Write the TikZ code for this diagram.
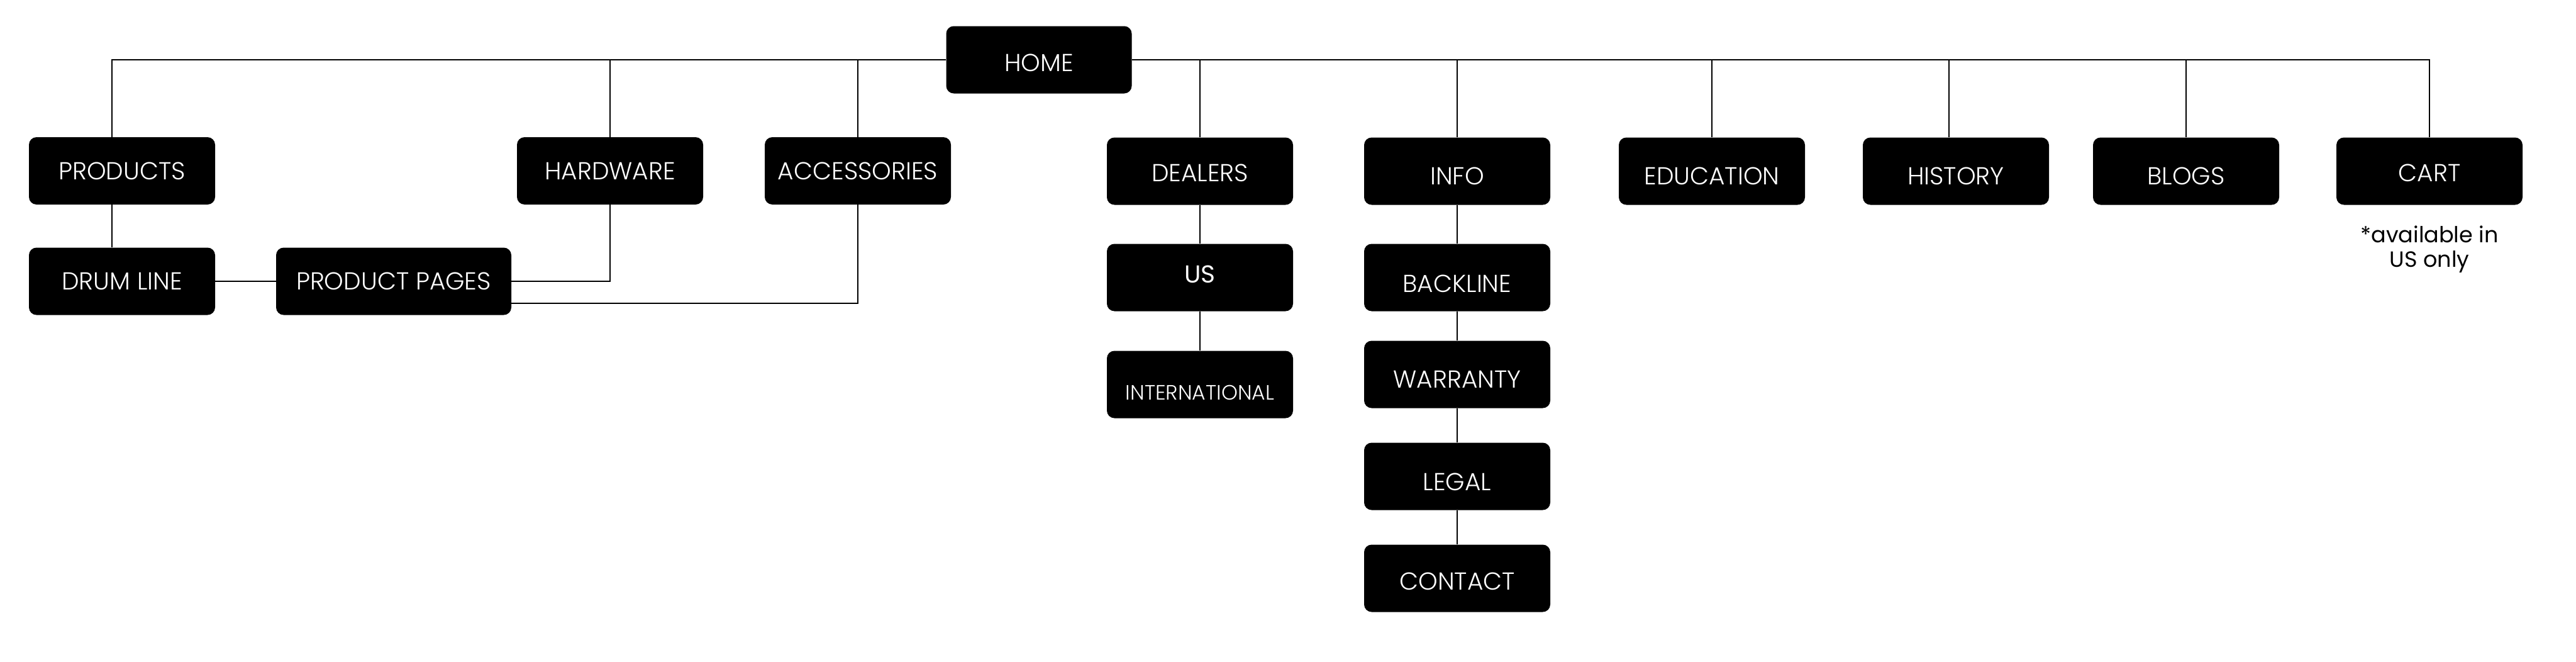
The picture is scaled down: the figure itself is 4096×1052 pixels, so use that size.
\documentclass[tikz,border=0pt]{standalone}
\usepackage{fontspec}
\IfFontExistsTF{Poppins Light}{\setmainfont{Poppins Light}}{\setmainfont{Poppins}}
\newfontfamily\notefont{Poppins}

\begin{document}
\begin{tikzpicture}[x=1pt, y=-1pt,
  box/.style={fill=black, rounded corners=12pt, minimum width=296pt, minimum height=107pt,
    inner sep=0pt, text=white, font=\fontsize{39}{41}\selectfont},
  drop/.style={text height=#1, text depth=0pt},
  link/.style={draw, line width=2.2pt}]
\useasboundingbox (0,0) rectangle (4096,1052);

\node[box, drop=37pt, minimum width=295pt] (home) at (1652, 95) {HOME};

\node[box] (prod) at (194, 271.5) {PRODUCTS};
\node[box] (hard) at (970, 271.5) {HARDWARE};
\node[box] (acc) at (1364, 271.5) {ACCESSORIES};
\node[box] (drum) at (194, 447) {DRUM LINE};
\node[box, minimum width=374pt] (pages) at (626, 447) {PRODUCT PAGES};

\node[box, drop=33pt] (deal) at (1908, 272) {DEALERS};
\node[box, text depth=10pt, font=\notefont\fontsize{39}{41}\selectfont] (us) at (1908, 441) {US};
\node[box, drop=49pt, font=\fontsize{33}{35}\selectfont] (intl) at (1908, 611) {INTERNATIONAL};

\node[box, drop=43pt] (info) at (2317, 272) {INFO};
\node[box, drop=47pt] (back) at (2317, 441) {BACKLINE};
\node[box, drop=43pt] (warr) at (2317, 595) {WARRANTY};
\node[box, drop=45pt] (legal) at (2317, 757) {LEGAL};
\node[box, drop=37pt] (cont) at (2317, 919) {CONTACT};

\node[box, drop=43pt] (edu) at (2722, 272) {EDUCATION};
\node[box, drop=43pt] (hist) at (3110, 272) {HISTORY};
\node[box, drop=43pt] (blog) at (3476, 272) {BLOGS};
\node[box, drop=33pt] (cart) at (3863, 272) {CART};
\node[align=center, inner sep=0pt, font=\notefont\fontsize{35}{39}\selectfont] (note) at (3863, 396) {*available in\\US only};

% top level
\path[link] (home) -| ([xshift=-16pt]prod.north);
\path[link] (home) -| (hard.north);
\path[link] (home) -| (acc.north);
\path[link] (home) -| (deal.north);
\path[link] (home) -| (info.north);
\path[link] (home) -| (edu.north);
\path[link] (home) -| ([xshift=-11pt]hist.north);
\path[link] (home) -| (blog.north);
\path[link] (home) -| (cart.north);

% products
\path[link] ([xshift=-16pt]prod.south) -- ([xshift=-16pt]drum.north);
\path[link] (drum) -- (pages);
\path[link] (hard) |- (pages.east);
\path[link] (acc) |- ([yshift=-35pt]pages.east);

% dealers
\path[link] (deal) -- (us);
\path[link] (us) -- (intl);

% info
\path[link] (info) -- (back);
\path[link] (back) -- (warr);
\path[link] (warr) -- (legal);
\path[link] (legal) -- (cont);
\end{tikzpicture}
\end{document}
